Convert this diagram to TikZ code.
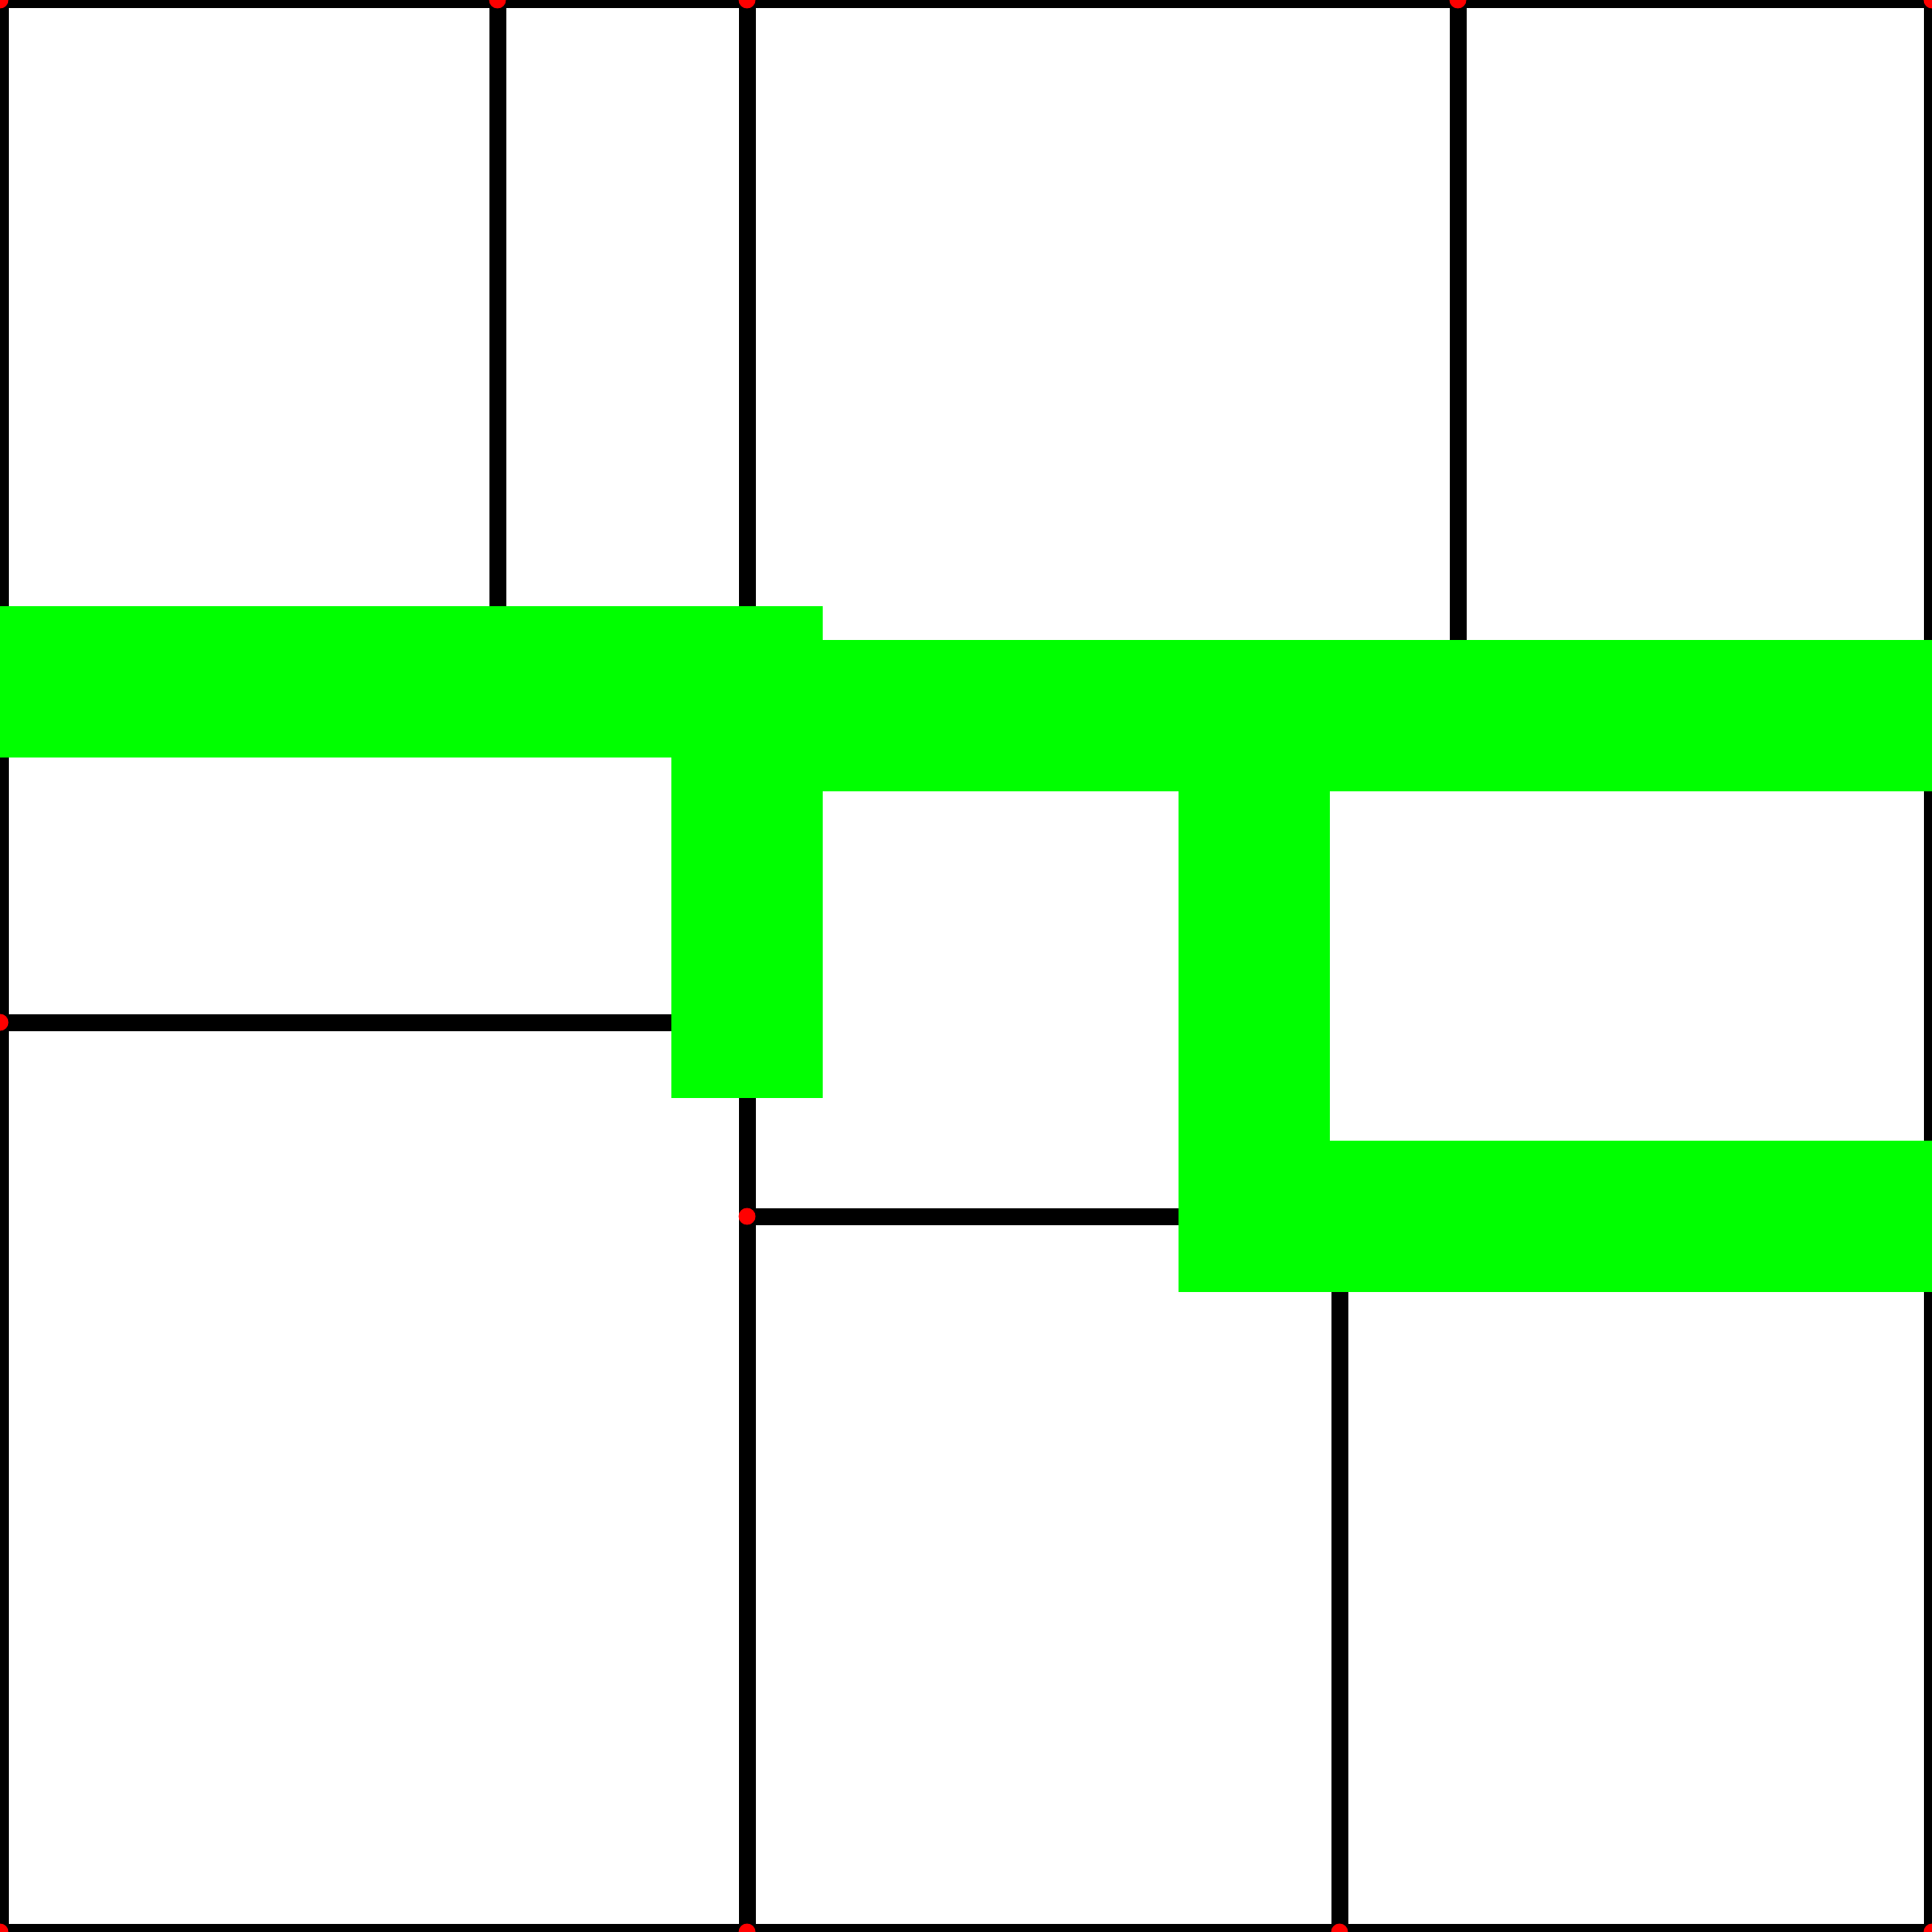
\documentclass[tikz,border=0pt]{standalone}
\usepackage{tikz}
\usetikzlibrary{positioning}

\begin{document}
\begin{tikzpicture}[x=0.1mm,y=-0.1mm,
		cut/.style={line width=2.1mm, black},
		route/.style={line width=18.8mm, green, line cap=rect},
		endpt/.style={circle, fill=red, inner sep=0pt, minimum size=2.1mm}]
		% Page size
		\def\side{2400}
		\clip (0,0) rectangle (\side,\side);
		% Corners and cut points
		\coordinate (tl) at (0,0);
		\coordinate (tr) at (\side,0);
		\coordinate (bl) at (0,\side);
		\coordinate (br) at (\side,\side);
		\coordinate (a1) at (618,0);
		\coordinate (a2) at (618,847);
		\coordinate (m1) at (928,0);
		\coordinate (m2) at (928,\side);
		\coordinate (l1) at (0,847);
		\coordinate (l2) at (928,847);
		\coordinate (l3) at (0,1270);
		\coordinate (l4) at (928,1270);
		\coordinate (r1) at (928,889);
		\coordinate (r2) at (\side,889);
		\coordinate (t1) at (1811,0);
		\coordinate (t2) at (1811,889);
		\coordinate (d1) at (1558,889);
		\coordinate (d2) at (1558,1511);
		\coordinate (e1) at (928,1511);
		\coordinate (e2) at (\side,1511);
		\coordinate (f1) at (1664,1511);
		\coordinate (f2) at (1664,\side);
		% Outer frame
		\draw[cut] (tl) rectangle (br);
		% Cuts
		\draw[cut] (m1) -- (m2);
		\draw[cut] (l1) -- (l2);
		\draw[cut] (a1) -- (a2);
		\draw[cut] (l3) -- (l4);
		\draw[cut] (r1) -- (r2);
		\draw[cut] (t1) -- (t2);
		\draw[cut] (d1) -- (d2);
		\draw[cut] (e1) -- (e2);
		\draw[cut] (f1) -- (f2);
		% Route along the cuts
		\draw[route] (l1) -- (a2);
		\draw[route] (a2) -- (l2);
		\draw[route] (l2) -- (l4);
		\draw[route] (r1) -- (d1);
		\draw[route] (d1) -- (t2);
		\draw[route] (t2) -- (r2);
		\draw[route] (d1) -- (d2);
		\draw[route] (d2) -- (f1);
		\draw[route] (f1) -- (e2);
		% End points
		\foreach \p in {tl,a1,m1,t1,tr,l3,e1,m2,f2,bl,br}
			\node[endpt] at (\p) {};
	\end{tikzpicture}
\end{document}
